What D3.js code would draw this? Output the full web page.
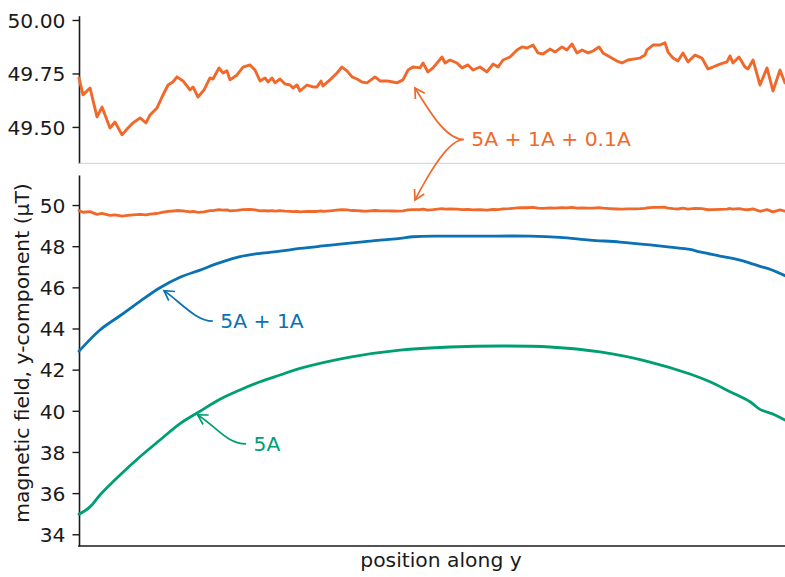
<!DOCTYPE html>
<html>
<head>
<meta charset="utf-8">
<script src="https://cdn.jsdelivr.net/npm/d3@7"></script>
<style>
  body { margin: 0; background: #fff; }
  svg text { font-family: "DejaVu Sans", sans-serif; }
</style>
</head>
<body>
<svg id="chart" width="785" height="577"></svg>
<script>
// Position along the scan (percent of scan length) and y-component of the field (µT)

// 5A + 1A + 0.1A coils
const combinedPos = [0, 0.57, 1.56, 2.55, 3.26, 4.39, 5.10, 6.09, 6.94, 7.65, 8.64, 9.49, 10.06, 11.05, 11.76,
  12.61, 13.31, 13.88, 14.73, 15.72, 16.15, 16.86, 17.71, 18.56, 18.98, 19.83, 20.40, 20.96, 21.39, 22.38,
  23.23, 24.22, 24.93, 25.64, 26.35, 26.77, 27.34, 27.76, 28.47, 29.18, 29.89, 30.31, 30.88, 31.30, 32.29,
  33.14, 33.71, 34.28, 34.56, 35.55, 36.54, 37.25, 37.96, 38.67, 39.38, 40.08, 40.79, 41.93, 42.63, 43.63,
  44.48, 45.04, 45.89, 46.60, 47.31, 48.30, 48.73, 49.43, 50.14, 51.42, 51.84, 52.55, 53.54, 54.25, 55.10,
  55.81, 56.80, 57.79, 58.64, 59.35, 60.06, 61.05, 62.04, 62.75, 63.46, 64.31, 65.01, 65.72, 66.71, 67.42,
  68.41, 69.12, 69.83, 70.54, 71.25, 72.10, 72.80, 73.65, 74.22, 75.21, 76.20, 76.91, 77.76, 78.75, 79.46,
  80.17, 80.45, 81.30, 82.29, 83.00, 83.43, 84.14, 84.84, 85.55, 86.26, 87.25, 88.24, 89.09, 89.80, 90.79,
  91.78, 92.21, 92.63, 93.48, 94.33, 94.76, 95.47, 96.46, 97.45, 98.30, 99.29, 100];
const combinedField = [49.729, 49.650, 49.682, 49.547, 49.593, 49.495, 49.523, 49.463, 49.495, 49.519, 49.542,
  49.519, 49.556, 49.589, 49.640, 49.696, 49.710, 49.734, 49.715, 49.673, 49.687, 49.640, 49.673, 49.729,
  49.724, 49.776, 49.752, 49.762, 49.720, 49.743, 49.780, 49.790, 49.766, 49.715, 49.729, 49.710, 49.729,
  49.706, 49.724, 49.701, 49.696, 49.682, 49.696, 49.668, 49.696, 49.687, 49.687, 49.715, 49.692, 49.720,
  49.752, 49.780, 49.762, 49.734, 49.724, 49.710, 49.706, 49.734, 49.715, 49.715, 49.710, 49.706, 49.720,
  49.766, 49.780, 49.776, 49.799, 49.757, 49.776, 49.827, 49.799, 49.813, 49.799, 49.776, 49.790, 49.766,
  49.780, 49.757, 49.794, 49.780, 49.813, 49.827, 49.860, 49.874, 49.869, 49.883, 49.846, 49.841, 49.864,
  49.850, 49.874, 49.860, 49.888, 49.846, 49.860, 49.846, 49.855, 49.874, 49.846, 49.827, 49.808, 49.799,
  49.813, 49.818, 49.822, 49.836, 49.860, 49.883, 49.883, 49.893, 49.850, 49.822, 49.808, 49.846, 49.804,
  49.836, 49.822, 49.771, 49.780, 49.794, 49.804, 49.832, 49.799, 49.827, 49.780, 49.771, 49.813, 49.696,
  49.776, 49.668, 49.766, 49.706];

// 5A + 1A coils
const twoCoilPos = [0, 2.97, 5.81, 8.64, 11.47, 14.31, 17.14, 19.97, 22.80, 25.64, 28.47, 31.30, 34.14, 36.97,
  39.80, 42.63, 45.47, 47.31, 51.13, 56.80, 63.88, 68.13, 72.38, 76.63, 80.88, 83.71, 86.54, 87.96, 90.79,
  93.63, 95.04, 96.46, 97.88, 100];
const twoCoilField = [42.90, 43.93, 44.62, 45.32, 45.98, 46.49, 46.84, 47.20, 47.49, 47.65, 47.76, 47.89, 48.00,
  48.10, 48.20, 48.30, 48.38, 48.46, 48.49, 48.49, 48.49, 48.43, 48.30, 48.20, 48.06, 47.95, 47.84, 47.72,
  47.52, 47.32, 47.18, 47.02, 46.88, 46.57];

// 5A coil alone
const mainCoilPos = [0, 1.56, 2.97, 5.81, 8.64, 11.47, 14.31, 17.14, 19.97, 22.80, 25.64, 28.47, 31.30, 38.39,
  45.47, 52.55, 59.63, 66.71, 73.80, 80.88, 86.54, 89.38, 92.21, 95.04, 96.46, 98.58, 100];
const mainCoilField = [34.97, 35.33, 35.91, 36.88, 37.77, 38.58, 39.38, 39.98, 40.56, 41.01, 41.41, 41.74, 42.06,
  42.61, 42.95, 43.10, 43.15, 43.10, 42.86, 42.37, 41.79, 41.41, 40.93, 40.44, 40.07, 39.80, 39.55];

const topTicks = [49.50, 49.75, 50.00];
const bottomTicks = [34, 36, 38, 40, 42, 44, 46, 48, 50];

const seriesNames = ["5A + 1A + 0.1A", "5A + 1A", "5A"];
const seriesColors = ["#f0682a", "#0a72b2", "#009e73"];

// label anchor (position, field in lower-panel units) and arrow tip (position, field, panel)
const labelPos = [55.57, 20.01, 24.73];
const labelField = [53.21, 44.38, 38.42];
const tipPos = [[47.59, 47.59], [12.04], [16.81]];
const tipField = [[49.682, 50.245], [45.84], [39.80]];
const tipPanel = [["top", "bottom"], ["bottom"], ["bottom"]];

const svg = d3.select("#chart");
const left = 79, right = 785;
const x = d3.scaleLinear().domain([0, 100]).range([left, right]);
const yTop = d3.scaleLinear().domain([49.33, 50.02]).range([163.3, 15.7]);
const yBot = d3.scaleLinear().domain([33.43, 51.46]).range([546, 175]);
const ink = "#1a1a1a";
const fontSize = 20.3;

function styleAxis(g) {
  g.select(".domain").attr("stroke", ink).attr("stroke-width", 1.6);
  g.selectAll(".tick line").attr("stroke", ink).attr("stroke-width", 1.4);
  g.selectAll(".tick text").attr("fill", ink).attr("font-size", fontSize)
    .attr("font-family", "DejaVu Sans, sans-serif").attr("dy", "0.36em");
}

// upper panel: close-up of the three-coil scan
svg.append("g").attr("transform", `translate(${left},0)`)
  .call(d3.axisLeft(yTop).tickValues(topTicks).tickFormat(d3.format(".2f"))
    .tickSize(6.5).tickSizeOuter(0).tickPadding(7))
  .call(styleAxis);
svg.append("line").attr("x1", left).attr("x2", right).attr("y1", 163.3).attr("y2", 163.3)
  .attr("stroke", "#d0d0d0").attr("stroke-width", 1);

// lower panel
svg.append("g").attr("transform", `translate(${left},0)`)
  .call(d3.axisLeft(yBot).tickValues(bottomTicks).tickFormat(d3.format("d"))
    .tickSize(6.5).tickSizeOuter(0).tickPadding(7))
  .call(styleAxis);
svg.append("line").attr("x1", left - 0.8).attr("x2", right).attr("y1", 546).attr("y2", 546)
  .attr("stroke", ink).attr("stroke-width", 1.6);

function drawLine(pos, vals, y, color, width, curve) {
  const pts = pos.map((p, i) => [p, vals[i]]);
  svg.append("path").datum(pts)
    .attr("fill", "none").attr("stroke", color).attr("stroke-width", width)
    .attr("stroke-linejoin", "round").attr("stroke-linecap", "round")
    .attr("d", d3.line().curve(curve).x(d => x(d[0])).y(d => y(d[1])));
}

drawLine(combinedPos, combinedField, yTop, seriesColors[0], 2.9, d3.curveLinear);
drawLine(mainCoilPos, mainCoilField, yBot, seriesColors[2], 2.8, d3.curveCatmullRom);
drawLine(twoCoilPos, twoCoilField, yBot, seriesColors[1], 2.8, d3.curveCatmullRom);
drawLine(combinedPos, combinedField, yBot, seriesColors[0], 2.8, d3.curveLinear);

// annotation labels with curved arrows
const bends = [[[18, 15, 24], [16, 13, -25]], [[17, 16, 11]], [[20, 17, 10]]];
seriesNames.forEach((name, i) => {
  const tx = x(labelPos[i]);
  const ty = yBot(labelField[i]);
  svg.append("text").attr("x", tx).attr("y", ty).attr("dy", "0.36em")
    .attr("font-size", fontSize).attr("fill", seriesColors[i]).text(name);
  const sx = tx - 7.5, sy = ty + 0.5;
  tipPos[i].forEach((tp, j) => {
    const ey = tipPanel[i][j] === "top" ? yTop(tipField[i][j]) : yBot(tipField[i][j]);
    const ex = x(tp);
    const [k1, cdx, cdy] = bends[i][j];
    const c1 = [sx - k1, sy], c2 = [ex + cdx, ey + cdy];
    const p = d3.path();
    p.moveTo(sx, sy);
    p.bezierCurveTo(c1[0], c1[1], c2[0], c2[1], ex, ey);
    svg.append("path").attr("d", p.toString()).attr("fill", "none")
      .attr("stroke", seriesColors[i]).attr("stroke-width", 1.7);
    // open arrowhead
    const ang = Math.atan2(c2[1] - ey, c2[0] - ex);
    const L = 11, spread = Math.PI / 6;
    const h = d3.path();
    h.moveTo(ex + L * Math.cos(ang + spread), ey + L * Math.sin(ang + spread));
    h.lineTo(ex, ey);
    h.lineTo(ex + L * Math.cos(ang - spread), ey + L * Math.sin(ang - spread));
    svg.append("path").attr("d", h.toString()).attr("fill", "none")
      .attr("stroke", seriesColors[i]).attr("stroke-width", 1.7)
      .attr("stroke-linejoin", "miter");
  });
});

// axis titles
svg.append("text").attr("x", 441).attr("y", 567).attr("text-anchor", "middle")
  .attr("font-size", fontSize).attr("fill", ink).text("position along y");
svg.append("text").attr("transform", "translate(29,353) rotate(-90)").attr("text-anchor", "middle")
  .attr("font-size", fontSize).attr("fill", ink).text("magnetic field, y-component (µT)");
</script>
</body>
</html>
